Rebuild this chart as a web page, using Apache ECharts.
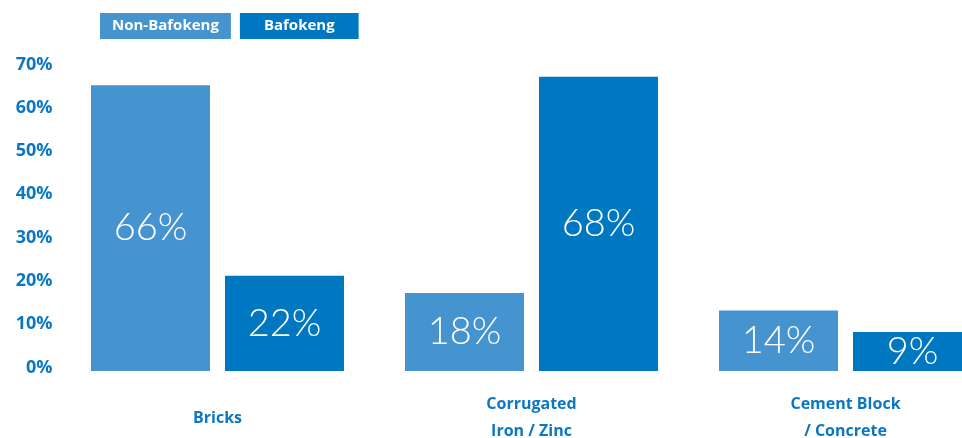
<!DOCTYPE html>
<html>
<head>
<meta charset="utf-8">
<script src="https://cdn.jsdelivr.net/npm/echarts@6/dist/echarts.min.js"></script>
<style>
  html, body { margin: 0; padding: 0; background: #fff; }
  #chart { width: 962px; height: 438px; }
</style>
</head>
<body>
<div id="chart"></div>
<script>
// Wall material shares by area
const categories = ['Bricks', 'Corrugated\nIron / Zinc', 'Cement Block\n/ Concrete'];
const seriesNames = ['Non-Bafokeng', 'Bafokeng'];
const nonBafokeng = [66, 18, 14];
const bafokeng = [22, 68, 9];
const yMin = 0, yMax = 70, yStep = 10;

const lightBlue = '#4593cf';
const darkBlue = '#0077c1';
const textBlue = '#0b77c3';
const font = '"Open Sans", "Noto Sans", sans-serif';
const lightFont = 'Lato, "Open Sans", sans-serif';

const chart = echarts.init(document.getElementById('chart'));

function legendItem(name, color, padX) {
  return {
    name: name,
    itemStyle: { opacity: 0 },
    textStyle: {
      backgroundColor: color,
      color: '#fff',
      fontFamily: font,
      fontWeight: 'bold',
      fontSize: 15,
      lineHeight: 26,
      padding: [0, padX, 0, padX]
    }
  };
}

const barLabel = {
  show: true,
  position: 'inside',
  formatter: '{c}%',
  color: '#fff',
  fontFamily: lightFont,
  fontWeight: 300,
  fontSize: 38
};

chart.setOption({
  animation: false,
  backgroundColor: '#fff',
  legend: {
    left: 95,
    top: 13,
    icon: 'rect',
    itemWidth: 0,
    itemHeight: 0,
    itemGap: 4,
    padding: 0,
    selectedMode: false,
    data: [legendItem(seriesNames[0], lightBlue, 12), legendItem(seriesNames[1], darkBlue, 24)]
  },
  grid: { left: 60.5, width: 942, top: 68, bottom: 67, outerBoundsMode: 'none', containLabel: false },
  xAxis: {
    type: 'category',
    data: categories,
    axisLine: { show: false },
    axisTick: { show: false },
    axisLabel: {
      margin: 47,
      verticalAlign: 'middle',
      color: textBlue,
      fontFamily: font,
      fontWeight: 'bold',
      fontSize: 16,
      lineHeight: 27
    }
  },
  yAxis: {
    type: 'value',
    min: yMin,
    max: yMax,
    interval: yStep,
    axisLine: { show: false },
    axisTick: { show: false },
    splitLine: { show: false },
    axisLabel: {
      formatter: '{value}%',
      margin: 8,
      color: textBlue,
      fontFamily: font,
      fontWeight: 'bold',
      fontSize: 18,
      verticalAlign: 'bottom',
      lineHeight: 7
    }
  },
  series: [
    {
      name: seriesNames[0],
      type: 'bar',
      data: nonBafokeng,
      barWidth: 119,
      barGap: '12.6%',
      itemStyle: { color: lightBlue },
      label: barLabel
    },
    {
      name: seriesNames[1],
      type: 'bar',
      data: bafokeng,
      barWidth: 119,
      barGap: '12.6%',
      itemStyle: { color: darkBlue },
      label: barLabel
    }
  ]
});
</script>
</body>
</html>
